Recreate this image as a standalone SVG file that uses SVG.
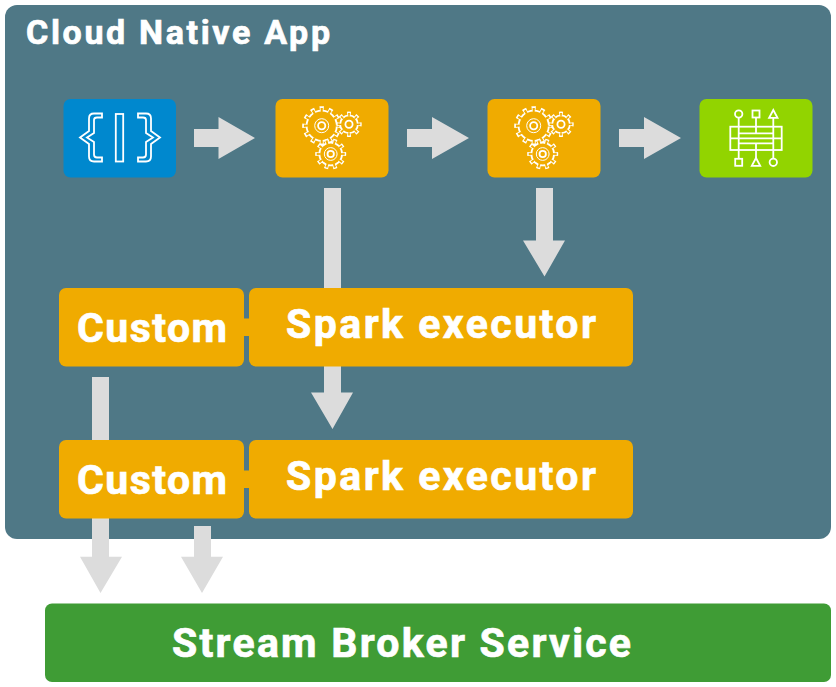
<svg xmlns="http://www.w3.org/2000/svg" width="836" height="687" viewBox="0 0 836 687">
<style>
.t{font-family:Roboto,"Noto Sans","Liberation Sans",sans-serif;font-weight:700;fill:#fff;stroke:#fff;stroke-width:.7}
.o{fill:#f0ab00}
.a{fill:#dcdcdc}
.i{fill:none;stroke:#fff;stroke-width:1.8}
</style>
<defs>
<g id="gears">
<g>
<circle cx="321.7" cy="125.7" r="17.5" fill="none" stroke="#fff" stroke-width="4" pathLength="360" stroke-dasharray="14 16" stroke-dashoffset="7"/>
<circle cx="321.700" cy="125.700" r="16" fill="#fff"/>
<circle cx="321.700" cy="125.700" r="15.800" fill="none" stroke="#f0ab00" stroke-width="4" pathLength="360" stroke-dasharray="8 22" stroke-dashoffset="4"/>
<circle cx="321.700" cy="125.700" r="14.200" fill="#f0ab00"/>
<circle cx="321.700" cy="125.700" r="7" fill="none" stroke="#fff" stroke-width="1"/>
<circle cx="321.700" cy="125.700" r="3.600" class="i"/>
</g>
<g>
<circle cx="349" cy="124.300" r="11" fill="none" stroke="#fff" stroke-width="3.400" pathLength="360" stroke-dasharray="20 25" stroke-dashoffset="10"/>
<circle cx="349" cy="124.300" r="9.800" fill="#fff"/>
<circle cx="349" cy="124.300" r="9.600" fill="none" stroke="#f0ab00" stroke-width="3.400" pathLength="360" stroke-dasharray="10 35" stroke-dashoffset="5"/>
<circle cx="349" cy="124.300" r="8" fill="#f0ab00"/>
<circle cx="349" cy="124.300" r="3.600" class="i"/>
</g>
<g>
<circle cx="330.700" cy="154" r="13.600" fill="none" stroke="#fff" stroke-width="3.800" pathLength="360" stroke-dasharray="16 20" stroke-dashoffset="8"/>
<circle cx="330.700" cy="154" r="12.300" fill="#fff"/>
<circle cx="330.700" cy="154" r="12.100" fill="none" stroke="#f0ab00" stroke-width="3.800" pathLength="360" stroke-dasharray="9 27" stroke-dashoffset="4.500"/>
<circle cx="330.700" cy="154" r="10.500" fill="#f0ab00"/>
<circle cx="330.700" cy="154" r="6.400" fill="none" stroke="#fff" stroke-width="1"/>
<circle cx="330.700" cy="154" r="3.200" class="i"/>
</g>
</g>
</defs>

<g id="panel">
<rect x="5" y="5" width="826" height="534" rx="12" fill="#4f7886"/>
<text class="t" x="26" y="44" font-size="34" textLength="304" lengthAdjust="spacing">Cloud Native App</text>
</g>

<g id="connectors">
<path class="a" d="M324 188H341V288H324Z"/>
<path class="a" d="M324 366H341V392.500H353L332.500 429L311 392.500H324Z"/>
<path class="a" d="M536 188H553V240.500H565L544.500 276.500L523 240.500H536Z"/>
<path class="a" d="M92 377H109V440H92Z"/>
<path class="a" d="M92 518H109V556.700H122L100.500 593L80 556.700H92Z"/>
<path class="a" d="M194 526H211V556.700H223L202 593L181 556.700H194Z"/>
<path class="a" d="M194 129H218.500V117L255 138L218.500 159V147H194Z"/>
<path class="a" d="M407 129H432V117L469 138L432 159V147H407Z"/>
<path class="a" d="M619 129H644V117L681 138L644 159V147H619Z"/>
<rect class="o" x="242" y="318.500" width="8" height="17.500"/>
<rect class="o" x="242" y="470.500" width="8" height="17.500"/>
</g>

<g id="code">
<rect x="63.500" y="99" width="112.500" height="78.500" rx="7" fill="#0088ce"/>
<path class="i" d="M102 113.500H94Q89 113.500 89 118.500V131L80 137.500L89 144V156.500Q89 161.500 94 161.500H102V157.500H97Q94 157.500 94 154.500V142L87 137.500L94 133V120Q94 117.500 97 117.500H102Z"/>
<rect class="i" x="115.800" y="114" width="7.400" height="47.500"/>
<path class="i" d="M138 113.500H146Q151 113.500 151 118.500V131L160 137.500L151 144V156.500Q151 161.500 146 161.500H138V157.500H143Q146 157.500 146 154.500V142L153 137.500L146 133V120Q146 117.500 143 117.500H138Z"/>
</g>

<g id="process1">
<rect class="o" x="275.500" y="99" width="113" height="78.500" rx="7"/>
<use href="#gears"/>
</g>

<g id="process2">
<rect class="o" x="487.500" y="99" width="113" height="78.500" rx="7"/>
<use href="#gears" x="212"/>
</g>

<g id="sink">
<rect x="699.500" y="99" width="113" height="78.500" rx="7" fill="#92d400"/>
<circle class="i" cx="738.700" cy="114" r="3.700"/>
<rect class="i" x="752.500" y="110.500" width="7" height="7"/>
<path class="i" d="M773.300 110L777.500 117.800H769.100Z"/>
<rect class="i" x="735.200" y="158.800" width="7" height="7"/>
<path class="i" d="M756 158L760.200 165.800H751.800Z"/>
<circle class="i" cx="773.300" cy="162.300" r="3.700"/>
<rect class="i" x="730.300" y="126.700" width="51.400" height="23.300"/>
<path class="i" d="M738.700 118V158.800M773.300 118V158.600M756 117.500V133.300M756 143.300V158M730.300 138.300H781.700M738.700 133.300H773.300M738.700 143.300H773.300"/>
</g>

<g id="custom1">
<rect class="o" x="59" y="288" width="185" height="78.500" rx="7"/>
<text class="t" x="77" y="342" font-size="41" textLength="150" lengthAdjust="spacing">Custom</text>
</g>
<g id="spark1">
<rect class="o" x="249" y="288" width="384" height="78.500" rx="7"/>
<text class="t" x="286" y="338" font-size="41" textLength="310" lengthAdjust="spacing">Spark executor</text>
</g>
<g id="custom2">
<rect class="o" x="59" y="440" width="185" height="78.500" rx="7"/>
<text class="t" x="77" y="494" font-size="41" textLength="150" lengthAdjust="spacing">Custom</text>
</g>
<g id="spark2">
<rect class="o" x="249" y="440" width="384" height="78.500" rx="7"/>
<text class="t" x="286" y="490" font-size="41" textLength="310" lengthAdjust="spacing">Spark executor</text>
</g>
<g id="broker">
<rect x="45" y="603.500" width="786" height="78.500" rx="7" fill="#3f9c35"/>
<text class="t" x="172" y="657" font-size="41" textLength="459" lengthAdjust="spacing">Stream Broker Service</text>
</g>
</svg>
